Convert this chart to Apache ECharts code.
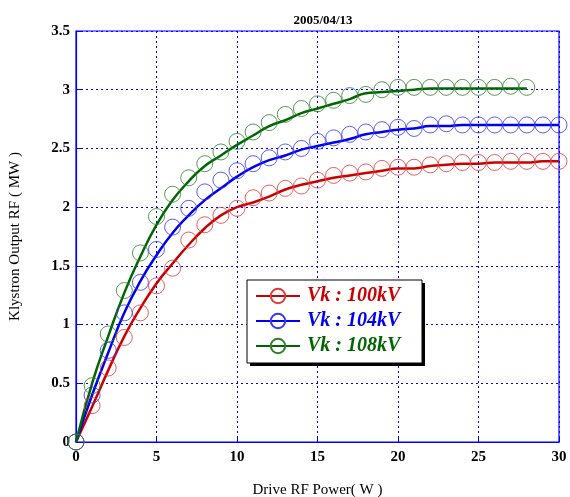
<!DOCTYPE html>
<html>
<head>
<meta charset="utf-8">
<script src="https://cdn.jsdelivr.net/npm/echarts@6/dist/echarts.min.js"></script>
<style>
html,body{margin:0;padding:0;background:#fff;}
#c{width:570px;height:497px;}
</style>
</head>
<body>
<div id="c"></div>
<script>
var xs = [0,1,2,3,4,5,6,7,8,9,10,11,12,13,14,15,16,17,18,19,20,21,22,23,24,25,26,27,28,29,30];
// measured points (circles)
var red100 = [0,0.31,0.63,0.89,1.10,1.33,1.48,1.72,1.85,1.93,1.99,2.08,2.12,2.16,2.18,2.23,2.27,2.29,2.30,2.33,2.34,2.34,2.36,2.37,2.38,2.38,2.38,2.39,2.39,2.39,2.39];
var blue104 = [0,0.40,0.78,1.10,1.36,1.64,1.83,1.99,2.13,2.23,2.31,2.37,2.42,2.47,2.50,2.56,2.59,2.62,2.64,2.66,2.68,2.67,2.70,2.71,2.70,2.70,2.70,2.70,2.70,2.70,2.70];
var green108 = [0,0.48,0.92,1.29,1.61,1.92,2.11,2.25,2.37,2.47,2.56,2.64,2.72,2.79,2.84,2.88,2.91,2.95,2.96,3.00,3.02,3.02,3.02,3.02,3.02,3.02,3.02,3.03,3.02];
// fitted curves (solid lines), read at the same x values
var red100Fit = [0,0.30,0.61,0.90,1.14,1.35,1.52,1.68,1.82,1.93,2.00,2.04,2.09,2.15,2.19,2.22,2.25,2.27,2.29,2.31,2.33,2.33,2.35,2.36,2.37,2.37,2.38,2.38,2.38,2.39,2.39];
var blue104Fit = [0,0.40,0.76,1.10,1.37,1.59,1.78,1.93,2.06,2.16,2.26,2.34,2.40,2.44,2.49,2.52,2.55,2.58,2.62,2.64,2.66,2.67,2.69,2.69,2.70,2.70,2.70,2.70,2.70,2.70,2.70];
var green108Fit = [0,0.50,0.90,1.27,1.58,1.85,2.06,2.22,2.35,2.44,2.53,2.61,2.69,2.74,2.80,2.84,2.88,2.92,2.97,2.98,2.99,3.00,3.01,3.01,3.01,3.01,3.01,3.01,3.01];
var seriesNames = ['Vk : 100kV','Vk : 104kV','Vk : 108kV'];
var yTicks = ['0','0.5','1','1.5','2','2.5','3','3.5'];
var title = '2005/04/13';

var serif = '"Liberation Serif","Times New Roman",serif';
function pairs(v){ return v.map(function(y,i){ return [xs[i], y]; }); }
function fit(name, vals, lineC, markC){
  return {
    name: name, type: 'line', data: pairs(vals), smooth: true,
    symbol: 'circle', showSymbol: false,
    lineStyle: {color: lineC, width: 2.5},
    itemStyle: {color: 'rgba(255,255,255,0)', borderColor: markC, borderWidth: 1},
    emphasis: {disabled: true}, animation: false, z: 3
  };
}
function pts(name, vals, markC){
  return {
    name: name, type: 'scatter', data: pairs(vals),
    symbol: 'circle', symbolSize: 16,
    itemStyle: {color: 'rgba(255,255,255,0)', borderColor: markC, borderWidth: 1},
    emphasis: {disabled: true}, animation: false, z: 4
  };
}
var colors = ['#cc0000','#0000ee','#006600'];
var markColors = ['#dd3a3a','#3535ff','#2f7f2f'];
var chart = echarts.init(document.getElementById('c'), null, {renderer:'canvas'});
chart.setOption({
  animation: false,
  backgroundColor: '#fff',
  title: {text: title, left: 318, top: 9, textAlign: 'center',
    textStyle: {fontFamily: serif, fontSize: 13, fontWeight: 'bold', color: '#000'}},
  grid: {left: 76, right: 11, top: 31, bottom: 55, show: true, borderColor: '#0000ff', borderWidth: 1.2,
    backgroundColor: 'transparent', containLabel: false, outerBoundsMode: 'none'},
  graphic: [
    {type: 'rect', z: 10, shape: {x: 250, y: 283, width: 175, height: 83}, style: {fill: '#000'}},
    {type: 'rect', z: 11, shape: {x: 247, y: 280, width: 175, height: 83}, style: {fill: '#fff', stroke: '#000', lineWidth: 1}}
  ],
  legend: {
    left: 247, top: 280, orient: 'vertical', z: 12,
    padding: [6, 14, 6, 8], itemGap: 5, itemWidth: 44, itemHeight: 18,
    data: seriesNames.map(function(n,i){ return {name: n, textStyle: {color: colors[i]}}; }),
    textStyle: {fontFamily: serif, fontSize: 20, fontWeight: 'bold', fontStyle: 'italic', padding: [0,0,0,2]}
  },
  xAxis: {
    type: 'value', min: 0, max: 30, interval: 5,
    name: 'Drive RF Power( W )', nameLocation: 'middle', nameGap: 41,
    nameTextStyle: {fontFamily: serif, fontSize: 15, color: '#000'},
    axisLine: {lineStyle: {color: '#0000ff', width: 1.2}},
    axisTick: {inside: true, length: 5, lineStyle: {color: '#0000ff'}},
    axisLabel: {fontFamily: serif, fontSize: 15, fontWeight: 'bold', color: '#000', margin: 8},
    splitLine: {show: true, lineStyle: {color: '#0000ff', type: [2,3], width: 1}}
  },
  yAxis: {
    type: 'value', min: 0, max: 3.5, interval: 0.5,
    name: 'Klystron Output RF ( MW )', nameLocation: 'middle', nameGap: 53,
    nameTextStyle: {fontFamily: serif, fontSize: 15, color: '#000'},
    axisLine: {show: true, lineStyle: {color: '#0000ff', width: 1.2}},
    axisTick: {show: true, inside: true, length: 5, lineStyle: {color: '#0000ff'}},
    axisLabel: {fontFamily: serif, fontSize: 15, fontWeight: 'bold', color: '#000', margin: 6,
      formatter: function(v){ var i = Math.round(v/0.5); return yTicks[i]; }},
    splitLine: {show: true, lineStyle: {color: '#0000ff', type: [2,3], width: 1}}
  },
  series: [
    fit(seriesNames[0], red100Fit, colors[0], markColors[0]),
    fit(seriesNames[1], blue104Fit, colors[1], markColors[1]),
    fit(seriesNames[2], green108Fit, colors[2], markColors[2]),
    pts('pts100', red100, markColors[0]),
    pts('pts104', blue104, markColors[1]),
    pts('pts108', green108, markColors[2])
  ]
});
</script>
</body>
</html>
